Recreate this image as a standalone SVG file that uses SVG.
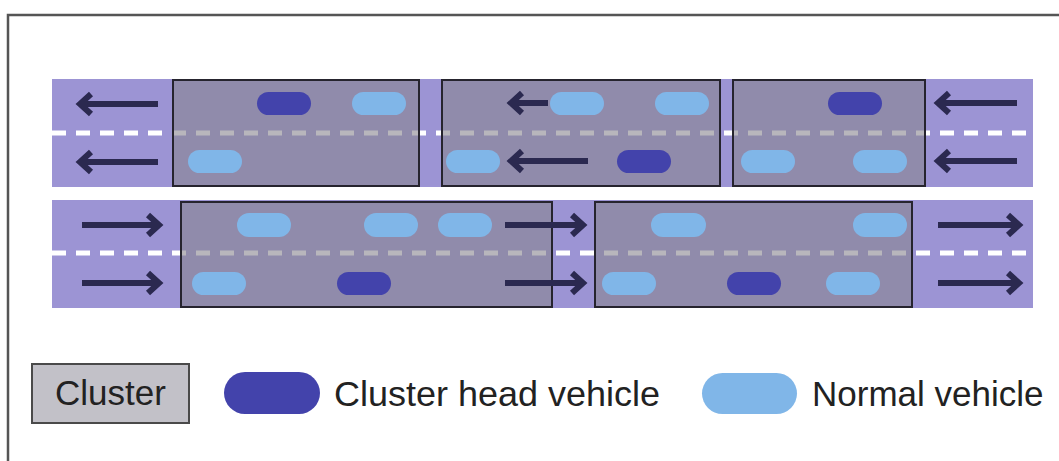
<svg xmlns="http://www.w3.org/2000/svg" width="1059" height="461" viewBox="0 0 1059 461">
<defs>
<style>
.road{fill:#9c94d4}
.dash{stroke:#ffffff;stroke-width:5;stroke-dasharray:14 10;fill:none}
.cluster{fill:#888690;fill-opacity:0.6;stroke:#26242e;stroke-width:2}
.head{fill:#4343ab}
.normal{fill:#80b6e8}
.arr{fill:none;stroke:#2b2950;stroke-width:6;stroke-linejoin:miter;stroke-linecap:butt}
.lbl{font-family:"Liberation Sans",Arial,sans-serif;font-size:35px;fill:#222222}
</style>
</defs>
<rect width="1059" height="461" fill="#ffffff"/>
<path d="M8,461 V15 H1059" fill="none" stroke="#555555" stroke-width="2.5"/>

<g id="road-top">
<rect class="road" x="52" y="79" width="981" height="108"/>
<line class="dash" x1="52" y1="133" x2="1033" y2="133"/>
</g>
<g id="road-bottom">
<rect class="road" x="52" y="200" width="981" height="108"/>
<line class="dash" x1="52" y1="253" x2="1033" y2="253"/>
</g>

<g id="cluster1"><rect class="cluster" x="173" y="80" width="246" height="106"/></g>
<g id="cluster2"><rect class="cluster" x="442" y="80" width="278" height="106"/></g>
<g id="cluster3"><rect class="cluster" x="733" y="80" width="192" height="106"/></g>
<g id="cluster4"><rect class="cluster" x="181" y="202" width="371" height="105"/></g>
<g id="cluster5"><rect class="cluster" x="595" y="202" width="317" height="105"/></g>

<g id="vehicles">
<rect class="head" x="257" y="92" width="54" height="23" rx="11.5"/>
<rect class="head" x="617" y="150" width="54" height="23" rx="11.5"/>
<rect class="head" x="828" y="92" width="54" height="23" rx="11.5"/>
<rect class="normal" x="352" y="92" width="54" height="23" rx="11.5"/>
<rect class="normal" x="188" y="150" width="54" height="23" rx="11.5"/>
<rect class="normal" x="550" y="92" width="54" height="23" rx="11.5"/>
<rect class="normal" x="655" y="92" width="54" height="23" rx="11.5"/>
<rect class="normal" x="446" y="150" width="54" height="23" rx="11.5"/>
<rect class="normal" x="741" y="150" width="54" height="23" rx="11.5"/>
<rect class="normal" x="853" y="150" width="54" height="23" rx="11.5"/>
<rect class="normal" x="237" y="213" width="54" height="24" rx="12"/>
<rect class="normal" x="364" y="213" width="54" height="24" rx="12"/>
<rect class="normal" x="438" y="213" width="54" height="24" rx="12"/>
<rect class="normal" x="651" y="213" width="55" height="24" rx="12"/>
<rect class="normal" x="853" y="213" width="54" height="24" rx="12"/>
<rect class="normal" x="192" y="272" width="54" height="23" rx="11.5"/>
<rect class="normal" x="602" y="272" width="54" height="23" rx="11.5"/>
<rect class="normal" x="826" y="272" width="54" height="23" rx="11.5"/>
<rect class="head" x="337" y="272" width="54" height="23" rx="11.5"/>
<rect class="head" x="727" y="272" width="54" height="23" rx="11.5"/>
</g>

<g id="connectors">
<path class="arr" d="M158,104 H80 M91,94 L80,104 L91,114"/>
<path class="arr" d="M158,162 H80 M91,152 L80,162 L91,172"/>
<path class="arr" d="M548,103 H511 M522,93 L511,103 L522,113"/>
<path class="arr" d="M588,161 H511 M522,151 L511,161 L522,171"/>
<path class="arr" d="M1017,103 H938 M949,93 L938,103 L949,113"/>
<path class="arr" d="M1017,161 H938 M949,151 L938,161 L949,171"/>
<path class="arr" d="M82,225 H159 M148,215 L159,225 L148,235"/>
<path class="arr" d="M82,283 H159 M148,273 L159,283 L148,293"/>
<path class="arr" d="M505,225 H583 M572,215 L583,225 L572,235"/>
<path class="arr" d="M505,283 H583 M572,273 L583,283 L572,293"/>
<path class="arr" d="M938,225 H1019 M1008,215 L1019,225 L1008,235"/>
<path class="arr" d="M938,283 H1019 M1008,273 L1019,283 L1008,293"/>
</g>

<g id="legend-cluster">
<rect x="32" y="364" width="157" height="59" fill="#c2c1c8" stroke="#4a4a4a" stroke-width="2"/>
<text class="lbl" x="110.5" y="405" text-anchor="middle">Cluster</text>
</g>
<g id="legend-head">
<rect class="head" x="224" y="372" width="96" height="42" rx="21"/>
<text class="lbl" x="334" y="406" textLength="326" lengthAdjust="spacingAndGlyphs">Cluster head vehicle</text>
</g>
<g id="legend-normal">
<rect class="normal" x="702" y="373" width="95" height="41" rx="20.5"/>
<text class="lbl" x="812" y="406">Normal vehicle</text>
</g>
</svg>
